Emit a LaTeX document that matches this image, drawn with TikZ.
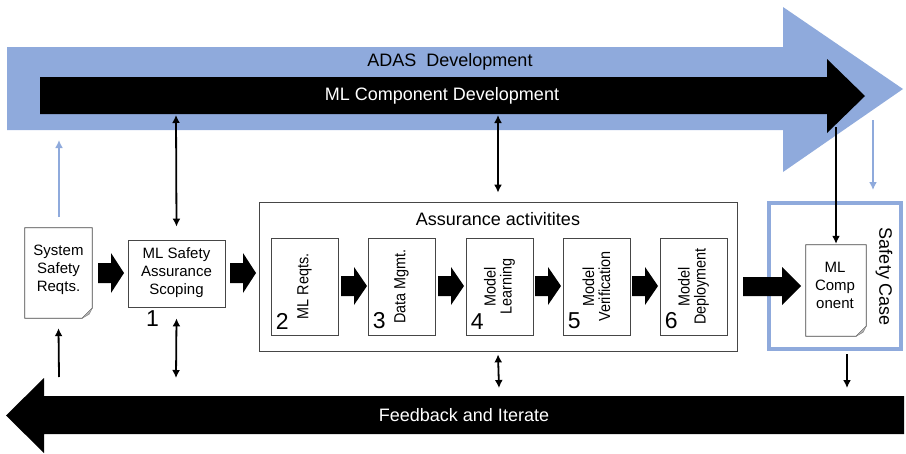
\documentclass[tikz,border=0pt]{standalone}
\usepackage{fontspec}
\setmainfont{Liberation Sans}
\newfontfamily\condfont[FakeStretch=0.9]{Liberation Sans}
\usetikzlibrary{arrows.meta,calc}
\definecolor{adasblue}{RGB}{143,170,220}
\definecolor{boxgray}{RGB}{70,70,70}
\tikzset{
  box/.style={draw=boxgray,line width=0.8pt,fill=white,inner sep=0pt},
  docbox/.style={inner sep=0pt},
  lbl/.style={font=\fontsize{15}{18}\selectfont,align=center,inner sep=0pt},
  rlbl/.style={font=\condfont\fontsize{16}{16}\selectfont,align=center,inner sep=0pt,rotate=90},
  num/.style={font=\fontsize{23}{23}\selectfont,inner sep=0pt,anchor=south west},
  big/.style={font=\fontsize{18}{20}\selectfont,inner sep=0pt},
  conn/.style={line width=1.8pt,-{Latex[length=8pt,width=8pt]}},
  dconn/.style={line width=1.8pt,{Latex[length=8pt,width=8pt]}-{Latex[length=8pt,width=8pt]}},
  bconn/.style={adasblue,line width=1.8pt,-{Latex[length=8pt,width=8pt]}},
}
\newcommand{\fatarrow}[5]{% x1, x2(tip), yc, bodyhalf, headhalf ; head length 13
  \fill (#1,#3-#4) -- (#2-13,#3-#4) -- (#2-13,#3-#5) -- (#2,#3) -- (#2-13,#3+#5) -- (#2-13,#3+#4) -- (#1,#3+#4) -- cycle;}
\newcommand{\docshape}[1]{%
  \draw[boxgray,line width=0.8pt,fill=white] (#1.north west) -- (#1.north east) -- ([yshift=10pt]#1.south east) -- ([xshift=-10pt]#1.south east) -- (#1.south west) -- cycle;
  \fill[gray!60] ([yshift=10pt]#1.south east) -- ([xshift=-10pt]#1.south east) -- ([xshift=-3pt,yshift=4pt]#1.south east) -- cycle;
  \draw[gray,line width=0.5pt] ([yshift=10pt]#1.south east) -- ([xshift=-3pt,yshift=4pt]#1.south east) -- ([xshift=-10pt]#1.south east);}
\begin{document}
\begin{tikzpicture}[x=1pt,y=-1pt]
\useasboundingbox (0,0) rectangle (906,453);
% big blue arrow
\fill[adasblue] (7,47) -- (783,47) -- (783,7) -- (903,89) -- (783,172) -- (783,130) -- (7,130) -- cycle;
% black arrow
\fill[black] (40,77) -- (827,77) -- (827,59) -- (865,96) -- (827,133) -- (827,114) -- (40,114) -- cycle;
\node[big] (adas) at (450,62) {ADAS\ \ Development};
\node[big,text=white] (mlcd) at (442,96) {ML Component Development};
% feedback arrow
\fill[black] (904,396) -- (44,396) -- (44,378) -- (6,415.5) -- (44,453) -- (44,434) -- (904,434) -- cycle;
\node[big,text=white] (fb) at (464,415) {Feedback and Iterate};

% nodes
\node[docbox,minimum width=67pt,minimum height=90pt] (reqs) at (58.5,273) {};
\docshape{reqs}
\node[lbl] at (58.5,270) {System\\Safety\\Reqts.};
\node[box,minimum width=97pt,minimum height=67pt] (scope) at (176.5,273.5) {};
\node[lbl] at (176.5,272.5) {ML Safety\\Assurance\\Scoping};
\node[num] at (146,327) {1};

\node[box,minimum width=478pt,minimum height=149pt] (assur) at (498,276.5) {};
\node[big] at (498,219) {Assurance activitites};

\node[box,minimum width=67pt,minimum height=97pt] (b2) at (304.5,286.5) {};
\node[box,minimum width=67pt,minimum height=97pt] (b3) at (401.5,286.5) {};
\node[box,minimum width=67pt,minimum height=97pt] (b4) at (499.5,286.5) {};
\node[box,minimum width=67pt,minimum height=97pt] (b5) at (596.5,286.5) {};
\node[box,minimum width=67pt,minimum height=97pt] (b6) at (693.5,286.5) {};
\node[rlbl] at (b2) {ML Reqts.};
\node[rlbl] at (b3) {Data Mgmt.};
\node[rlbl] at (b4) {Model\\Learning};
\node[rlbl] at (b5) {Model\\Verification};
\node[rlbl] at (b6) {Model\\Deployment};
\node[num] at ([xshift=5pt,yshift=6pt]b2.south west) {2};
\node[num] at ([xshift=5pt,yshift=6pt]b3.south west) {3};
\node[num] at ([xshift=5pt,yshift=6pt]b4.south west) {4};
\node[num] at ([xshift=5pt,yshift=6pt]b5.south west) {5};
\node[num] at ([xshift=5pt,yshift=6pt]b6.south west) {6};

\node[draw=adasblue,line width=4pt,minimum width=132pt,minimum height=146pt,inner sep=0pt] (safety) at (835,276) {};
\node[big,rotate=-90] at (884,277) {Safety Case};
\node[docbox,minimum width=60pt,minimum height=91pt] (mlc) at (836,290.5) {};
\docshape{mlc}
\node[lbl] at (835,285) {ML\\Comp\\onent};

% block arrows
\fatarrow{98}{124}{273}{10}{20}
\fatarrow{230}{256}{273}{10}{20}
\fatarrow{341}{367}{286}{10}{19}
\fatarrow{438}{464}{286}{10}{19}
\fatarrow{535}{561}{286}{10}{19}
\fatarrow{632}{658}{286}{10}{19}
\fill (743,277) -- (782,277) -- (782,267) -- (801,286) -- (782,305) -- (782,296) -- (743,296) -- cycle;

% connectors
\coordinate (bu1) at (59,217);
\coordinate (bu2) at (59,140);
\draw[bconn] (bu1) -- (bu2);
\coordinate (s1) at (176,115);
\draw[dconn] (s1) -- ([yshift=13pt]scope.north);
\coordinate (s2) at (176,378);
\draw[dconn] ([yshift=-11pt]scope.south) -- (s2);
\coordinate (r1) at (59,377);
\draw[conn] (r1) -- ([yshift=-10pt]reqs.south);
\coordinate (a1) at (498,115);
\draw[dconn] (a1) -- ([yshift=9pt]assur.north);
\coordinate (a2) at (499,388);
\draw[dconn] ([yshift=-3pt]assur.south) -- (a2);
\coordinate (m1) at (836,127);
\draw[conn] (m1) -- ([yshift=1pt]mlc.north);
\coordinate (bd1) at (873,120);
\draw[bconn] (bd1) -- ([yshift=11pt]safety.north -| bd1);
\coordinate (sc1) at (847,388);
\draw[conn] ([yshift=-3pt]safety.south -| sc1) -- (sc1);
\end{tikzpicture}
\end{document}
